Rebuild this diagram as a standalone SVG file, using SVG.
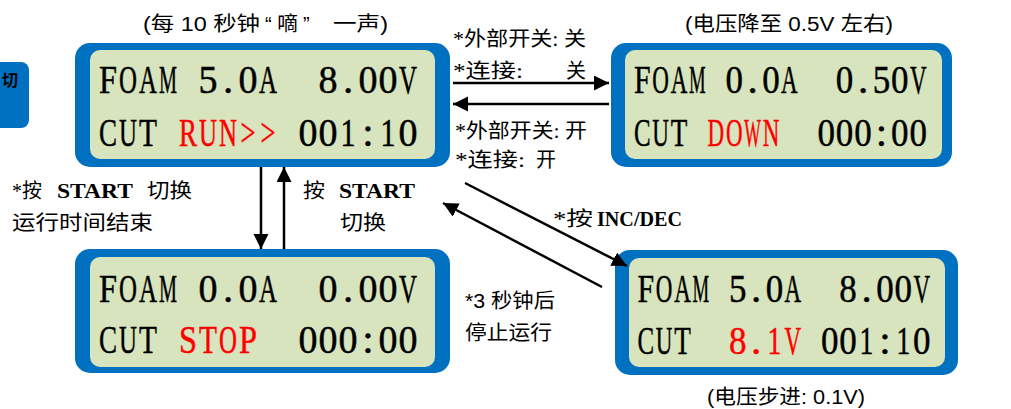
<svg xmlns="http://www.w3.org/2000/svg" width="1011" height="409" viewBox="0 0 1011 409">
<style>
.frame{fill:#0070C0}
.screen{fill:#D7E4BD}
.lcd{font-family:"Liberation Serif",serif;font-size:41px;text-anchor:middle;fill:#000;stroke:#000;stroke-width:0.5}
.red{fill:#FF0000;stroke:#FF0000}
.ann{font-family:"Liberation Sans","Noto Sans CJK SC",sans-serif;font-size:20px;fill:#000}
.cn{font-family:"Liberation Serif","Noto Sans CJK SC",serif;font-size:20px;fill:#000}
.b{font-family:"Liberation Serif",serif;font-weight:bold}
.conn{stroke:#000;stroke-width:2.5;fill:none}
</style>
<defs>
<marker id="ah" markerUnits="userSpaceOnUse" markerWidth="16" markerHeight="16" refX="15" refY="7.5" orient="auto">
<path d="M0,0 L15,7.5 L0,15 z" fill="#000"/>
</marker>
</defs>

<g id="edge-box">
<rect x="-10" y="62" width="39" height="66" rx="8" class="frame"/>
<text x="2" y="86" style="font-family:'Noto Sans CJK SC',sans-serif;font-size:16px;font-weight:bold">切</text>
</g>

<g id="node-run">
<rect x="75" y="43" width="375" height="124" rx="15" class="frame"/>
<rect x="90" y="50" width="345" height="109" rx="10" class="screen"/>
<text class="lcd" transform="translate(108 93) scale(.79 1)">F</text>
<text class="lcd" transform="translate(128 93) scale(.608 1)">O</text>
<text class="lcd" transform="translate(148 93) scale(.608 1)">A</text>
<text class="lcd" transform="translate(168 93) scale(.494 1)">M</text>
<text class="lcd" transform="translate(208 93) scale(.927 1)">5</text>
<text class="lcd" transform="translate(228 93)">.</text>
<text class="lcd" transform="translate(248 93) scale(.927 1)">0</text>
<text class="lcd" transform="translate(268 93) scale(.608 1)">A</text>
<text class="lcd" transform="translate(328 93) scale(.927 1)">8</text>
<text class="lcd" transform="translate(348 93)">.</text>
<text class="lcd" transform="translate(368 93) scale(.927 1)">0</text>
<text class="lcd" transform="translate(388 93) scale(.927 1)">0</text>
<text class="lcd" transform="translate(408 93) scale(.608 1)">V</text>
<text class="lcd" transform="translate(108 146) scale(.659 1)">C</text>
<text class="lcd" transform="translate(128 146) scale(.608 1)">U</text>
<text class="lcd" transform="translate(148 146) scale(.717 1)">T</text>
<text class="lcd red" transform="translate(188 146) scale(.659 1)">R</text>
<text class="lcd red" transform="translate(208 146) scale(.608 1)">U</text>
<text class="lcd red" transform="translate(228 146) scale(.608 1)">N</text>
<text class="lcd red" transform="translate(248 146) scale(.65 1)">&gt;</text>
<text class="lcd red" transform="translate(268 146) scale(.65 1)">&gt;</text>
<text class="lcd" transform="translate(308 146) scale(.927 1)">0</text>
<text class="lcd" transform="translate(328 146) scale(.927 1)">0</text>
<text class="lcd" transform="translate(348 146) scale(.732 1)">1</text>
<text class="lcd" transform="translate(368 146)">:</text>
<text class="lcd" transform="translate(388 146) scale(.732 1)">1</text>
<text class="lcd" transform="translate(408 146) scale(.927 1)">0</text>
</g>

<g id="node-down">
<rect x="611" y="43" width="341" height="124" rx="15" class="frame"/>
<rect x="625" y="50" width="317" height="109" rx="10" class="screen"/>
<text class="lcd" transform="translate(642.2 93) scale(.728 1)">F</text>
<text class="lcd" transform="translate(660.6 93) scale(.561 1)">O</text>
<text class="lcd" transform="translate(679 93) scale(.561 1)">A</text>
<text class="lcd" transform="translate(697.4 93) scale(.456 1)">M</text>
<text class="lcd" transform="translate(734.2 93) scale(.854 1)">0</text>
<text class="lcd" transform="translate(752.6 93)">.</text>
<text class="lcd" transform="translate(771 93) scale(.854 1)">0</text>
<text class="lcd" transform="translate(789.4 93) scale(.561 1)">A</text>
<text class="lcd" transform="translate(844.6 93) scale(.854 1)">0</text>
<text class="lcd" transform="translate(863 93)">.</text>
<text class="lcd" transform="translate(881.4 93) scale(.854 1)">5</text>
<text class="lcd" transform="translate(899.8 93) scale(.854 1)">0</text>
<text class="lcd" transform="translate(918.2 93) scale(.561 1)">V</text>
<text class="lcd" transform="translate(642.2 146) scale(.608 1)">C</text>
<text class="lcd" transform="translate(660.6 146) scale(.561 1)">U</text>
<text class="lcd" transform="translate(679 146) scale(.661 1)">T</text>
<text class="lcd red" transform="translate(715.8 146) scale(.561 1)">D</text>
<text class="lcd red" transform="translate(734.2 146) scale(.561 1)">O</text>
<text class="lcd red" transform="translate(752.6 146) scale(.429 1)">W</text>
<text class="lcd red" transform="translate(771 146) scale(.561 1)">N</text>
<text class="lcd" transform="translate(826.2 146) scale(.854 1)">0</text>
<text class="lcd" transform="translate(844.6 146) scale(.854 1)">0</text>
<text class="lcd" transform="translate(863 146) scale(.854 1)">0</text>
<text class="lcd" transform="translate(881.4 146)">:</text>
<text class="lcd" transform="translate(899.8 146) scale(.854 1)">0</text>
<text class="lcd" transform="translate(918.2 146) scale(.854 1)">0</text>
</g>

<g id="node-stop">
<rect x="75" y="249" width="375" height="124" rx="15" class="frame"/>
<rect x="90" y="257" width="345" height="110" rx="10" class="screen"/>
<text class="lcd" transform="translate(108 302) scale(.79 1)">F</text>
<text class="lcd" transform="translate(128 302) scale(.608 1)">O</text>
<text class="lcd" transform="translate(148 302) scale(.608 1)">A</text>
<text class="lcd" transform="translate(168 302) scale(.494 1)">M</text>
<text class="lcd" transform="translate(208 302) scale(.927 1)">0</text>
<text class="lcd" transform="translate(228 302)">.</text>
<text class="lcd" transform="translate(248 302) scale(.927 1)">0</text>
<text class="lcd" transform="translate(268 302) scale(.608 1)">A</text>
<text class="lcd" transform="translate(328 302) scale(.927 1)">0</text>
<text class="lcd" transform="translate(348 302)">.</text>
<text class="lcd" transform="translate(368 302) scale(.927 1)">0</text>
<text class="lcd" transform="translate(388 302) scale(.927 1)">0</text>
<text class="lcd" transform="translate(408 302) scale(.608 1)">V</text>
<text class="lcd" transform="translate(108 353) scale(.659 1)">C</text>
<text class="lcd" transform="translate(128 353) scale(.608 1)">U</text>
<text class="lcd" transform="translate(148 353) scale(.717 1)">T</text>
<text class="lcd red" transform="translate(188 353) scale(.79 1)">S</text>
<text class="lcd red" transform="translate(208 353) scale(.717 1)">T</text>
<text class="lcd red" transform="translate(228 353) scale(.608 1)">O</text>
<text class="lcd red" transform="translate(248 353) scale(.79 1)">P</text>
<text class="lcd" transform="translate(308 353) scale(.927 1)">0</text>
<text class="lcd" transform="translate(328 353) scale(.927 1)">0</text>
<text class="lcd" transform="translate(348 353) scale(.927 1)">0</text>
<text class="lcd" transform="translate(368 353)">:</text>
<text class="lcd" transform="translate(388 353) scale(.927 1)">0</text>
<text class="lcd" transform="translate(408 353) scale(.927 1)">0</text>
</g>

<g id="node-adjust">
<rect x="615" y="250" width="343" height="125" rx="15" class="frame"/>
<rect x="629" y="258" width="316" height="109" rx="10" class="screen"/>
<text class="lcd" transform="translate(645.7 302) scale(.728 1)">F</text>
<text class="lcd" transform="translate(664.1 302) scale(.561 1)">O</text>
<text class="lcd" transform="translate(682.5 302) scale(.561 1)">A</text>
<text class="lcd" transform="translate(700.9 302) scale(.456 1)">M</text>
<text class="lcd" transform="translate(737.7 302) scale(.854 1)">5</text>
<text class="lcd" transform="translate(756.1 302)">.</text>
<text class="lcd" transform="translate(774.5 302) scale(.854 1)">0</text>
<text class="lcd" transform="translate(792.9 302) scale(.561 1)">A</text>
<text class="lcd" transform="translate(848.1 302) scale(.854 1)">8</text>
<text class="lcd" transform="translate(866.5 302)">.</text>
<text class="lcd" transform="translate(884.9 302) scale(.854 1)">0</text>
<text class="lcd" transform="translate(903.3 302) scale(.854 1)">0</text>
<text class="lcd" transform="translate(921.7 302) scale(.561 1)">V</text>
<text class="lcd" transform="translate(645.7 354) scale(.608 1)">C</text>
<text class="lcd" transform="translate(664.1 354) scale(.561 1)">U</text>
<text class="lcd" transform="translate(682.5 354) scale(.661 1)">T</text>
<text class="lcd red" transform="translate(737.7 354) scale(.854 1)">8</text>
<text class="lcd red" transform="translate(756.1 354)">.</text>
<text class="lcd red" transform="translate(774.5 354) scale(.673 1)">1</text>
<text class="lcd red" transform="translate(792.9 354) scale(.561 1)">V</text>
<text class="lcd" transform="translate(829.7 354) scale(.854 1)">0</text>
<text class="lcd" transform="translate(848.1 354) scale(.854 1)">0</text>
<text class="lcd" transform="translate(866.5 354) scale(.673 1)">1</text>
<text class="lcd" transform="translate(884.9 354)">:</text>
<text class="lcd" transform="translate(903.3 354) scale(.673 1)">1</text>
<text class="lcd" transform="translate(921.7 354) scale(.854 1)">0</text>
</g>

<g id="connectors">
<line x1="453" y1="83" x2="609" y2="83" class="conn" marker-end="url(#ah)"/>
<line x1="609" y1="104" x2="453" y2="104" class="conn" marker-end="url(#ah)"/>
<line x1="261" y1="167" x2="261" y2="249" class="conn" marker-end="url(#ah)"/>
<line x1="284" y1="249" x2="284" y2="167" class="conn" marker-end="url(#ah)"/>
<line x1="465" y1="183" x2="627" y2="266" class="conn" marker-end="url(#ah)"/>
<line x1="602" y1="287" x2="443" y2="203" class="conn" marker-end="url(#ah)"/>
</g>

<g id="labels">
<text class="ann" y="31"><tspan x="143" textLength="117" lengthAdjust="spacingAndGlyphs">(每 10 秒钟</tspan><tspan x="265">“</tspan><tspan x="277" textLength="21" lengthAdjust="spacingAndGlyphs">嘀</tspan><tspan x="303">”</tspan><tspan x="333" textLength="55" lengthAdjust="spacingAndGlyphs">一声)</tspan></text>
<text class="ann" x="685" y="31" textLength="208" lengthAdjust="spacingAndGlyphs">(电压降至  0.5V 左右)</text>
<text class="cn" x="453" y="46" textLength="133" lengthAdjust="spacingAndGlyphs">*外部开关: 关</text>
<text class="cn" x="453" y="78" textLength="70" lengthAdjust="spacingAndGlyphs">*连接:</text>
<text class="cn" x="566" y="78">关</text>
<text class="cn" x="455" y="138" textLength="132" lengthAdjust="spacingAndGlyphs">*外部开关: 开</text>
<text class="cn" x="455" y="167" textLength="70" lengthAdjust="spacingAndGlyphs">*连接:</text>
<text class="cn" x="536" y="167">开</text>
<text class="cn" x="12" y="198"><tspan textLength="30" lengthAdjust="spacingAndGlyphs">*按</tspan><tspan x="57" class="b" font-size="22" textLength="76" lengthAdjust="spacingAndGlyphs">START</tspan><tspan x="147" textLength="45" lengthAdjust="spacingAndGlyphs">切换</tspan></text>
<text class="cn" x="12" y="230" textLength="141" lengthAdjust="spacingAndGlyphs">运行时间结束</text>
<text class="cn" x="303" y="198"><tspan textLength="22" lengthAdjust="spacingAndGlyphs">按</tspan><tspan x="339" class="b" font-size="22" textLength="76" lengthAdjust="spacingAndGlyphs">START</tspan></text>
<text class="cn" x="340" y="230" textLength="46" lengthAdjust="spacingAndGlyphs">切换</text>
<text class="cn" x="553" y="226"><tspan textLength="40" lengthAdjust="spacingAndGlyphs">*按</tspan><tspan x="597" class="b" textLength="85" lengthAdjust="spacingAndGlyphs">INC/DEC</tspan></text>
<text class="ann" x="465" y="308" textLength="90" lengthAdjust="spacingAndGlyphs">*3 秒钟后</text>
<text class="ann" x="465" y="340" textLength="87" lengthAdjust="spacingAndGlyphs">停止运行</text>
<text class="ann" x="707" y="404" textLength="158" lengthAdjust="spacingAndGlyphs">(电压步进: 0.1V)</text>
</g>
</svg>
